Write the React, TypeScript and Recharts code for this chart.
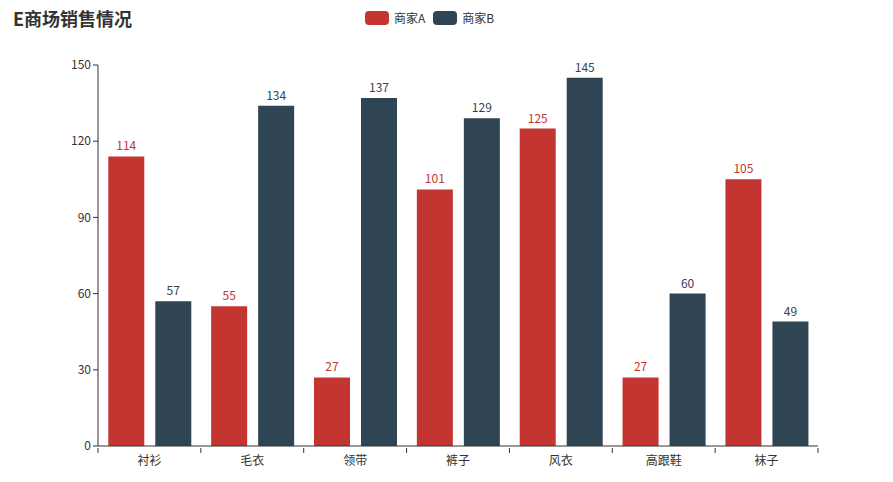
import { Bar, BarChart, LabelList, XAxis, YAxis } from "recharts";

const CATEGORIES = ["衬衫", "毛衣", "领带", "裤子", "风衣", "高跟鞋", "袜子"];
const SELLER_A = [114, 55, 27, 101, 125, 27, 105];
const SELLER_B = [57, 134, 137, 129, 145, 60, 49];
const Y_TICKS = [0, 30, 60, 90, 120, 150];

const RED = "#c23531";
const NAVY = "#2f4554";
const FONT = '"Noto Sans CJK SC", "Noto Sans", sans-serif';

const PLOT_WIDTH = 893 - 98 - 75;
const BAND = PLOT_WIDTH / CATEGORIES.length;

const rows = CATEGORIES.map((name, i) => ({ name, a: SELLER_A[i], b: SELLER_B[i] }));

const axisTick = { fill: "#333", fontSize: 12, fontFamily: FONT };

// echarts-style category axis: ticks sit on the band edges, not the centres
function BoundaryTick(props: any) {
  const { x, y, payload, index } = props;
  const left = x - BAND / 2;
  const right = x + BAND / 2;
  const top = y - 5;
  return (
    <g>
      <line x1={left} x2={left} y1={top} y2={top + 5} stroke="#333" />
      {index === CATEGORIES.length - 1 && (
        <line x1={right} x2={right} y1={top} y2={top + 5} stroke="#333" />
      )}
      <text x={x} y={y + 3} dy="0.71em" textAnchor="middle" {...axisTick}>
        {payload.value}
      </text>
    </g>
  );
}

export default function App() {
  return (
    <div style={{ position: "absolute", left: 0, top: 0, width: 893, height: 482, fontFamily: FONT }}>
      <div
        style={{
          position: "absolute",
          left: 13,
          top: 5,
          fontSize: 18,
          fontWeight: 700,
          color: "#333",
          lineHeight: "26px",
        }}
      >
        E商场销售情况
      </div>
      <div
        style={{
          position: "absolute",
          left: 365,
          top: 9,
          display: "flex",
          alignItems: "center",
          fontSize: 12,
          color: "#333",
          lineHeight: "18px",
        }}
      >
        {[
          { label: "商家A", color: RED },
          { label: "商家B", color: NAVY },
        ].map((item) => (
          <div key={item.label} style={{ display: "flex", alignItems: "center", marginRight: 8 }}>
            <span
              style={{
                display: "inline-block",
                width: 24,
                height: 14,
                borderRadius: 4,
                background: item.color,
                marginRight: 5,
              }}
            />
            <span>{item.label}</span>
          </div>
        ))}
      </div>
      <BarChart
        width={893}
        height={482}
        data={rows}
        margin={{ top: 65, right: 75, bottom: 6, left: 38 }}
        barCategoryGap="10%"
        barGap={11}
      >
        <XAxis
          dataKey="name"
          height={30}
          tick={<BoundaryTick />}
          tickLine={false}
          axisLine={{ stroke: "#333" }}
          tickSize={5}
          interval={0}
        />
        <YAxis
          width={60}
          domain={[0, 150]}
          ticks={Y_TICKS}
          tick={axisTick}
          tickLine={{ stroke: "#333" }}
          axisLine={{ stroke: "#333" }}
          tickSize={5}
          interval={0}
        />
        <Bar dataKey="a" name="商家A" fill={RED} isAnimationActive={false}>
          <LabelList dataKey="a" position="top" offset={6} fill={RED} fontSize={12} fontFamily={FONT} />
        </Bar>
        <Bar dataKey="b" name="商家B" fill={NAVY} isAnimationActive={false}>
          <LabelList dataKey="b" position="top" offset={6} fill={NAVY} fontSize={12} fontFamily={FONT} />
        </Bar>
      </BarChart>
    </div>
  );
}
